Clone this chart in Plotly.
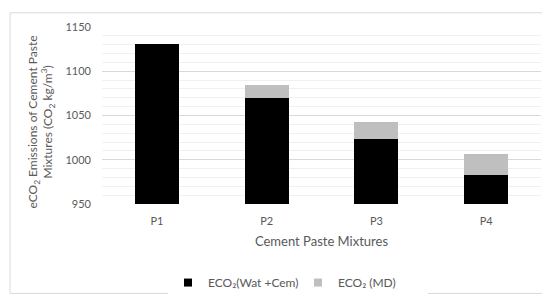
import plotly.graph_objects as go

# data
mixtures = ['P1', 'P2', 'P3', 'P4']
eco2_wat_cem = [1131, 1070, 1024, 983]
eco2_md = [0, 14, 19, 24]

W, H = 550, 301
ml, mr, mt, mb = 94, 17, 17, 97
pw, ph = W - ml - mr, H - mt - mb

def px_x(x):
    return (x - ml) / pw

def px_y(y):
    return (H - mb - y) / ph

font_fam = 'Lato, Noto Sans, sans-serif'
txt_col = '#595959'
names = ['ECO₂(Wat +Cem)', 'ECO₂ (MD)']
colors = ['#000000', '#bfbfbf']
ytitle_lines = ['eCO<sub>2</sub> Emissions of Cement Paste',
                'Mixtures (CO<sub>2</sub> kg/m<sup>3</sup>)']

fig = go.Figure()

for vals, name, col in zip([eco2_wat_cem, eco2_md], names, colors):
    fig.add_trace(
        go.Bar(
            x = mixtures,
            y = vals,
            name = name,
            marker = {'color': col, 'line': {'width': 0}},
            showlegend = False,
        )
    )

# small square legend keys like the excel chart
for name, col in zip(names, colors):
    fig.add_trace(
        go.Scatter(
            x = [None], y = [None],
            mode = 'markers',
            name = name,
            marker = {'color': col, 'symbol': 'square', 'size': 8},
        )
    )

# y title as two rotated lines (one annotation each, easier to place)
annots = []
for line, xpos in zip(ytitle_lines, [26, 40]):
    annots.append(dict(
        text = line,
        xref = 'paper', yref = 'paper',
        x = px_x(xpos), y = px_y(118),
        xanchor = 'center', yanchor = 'middle',
        textangle = -90, showarrow = False,
        font = dict(size = 12, color = txt_col),
    ))

fig.update_layout(
    width = W, height = H,
    margin = dict(l = ml, r = mr, t = mt, b = mb),
    barmode = 'stack',
    bargap = 0.6,
    plot_bgcolor = 'white',
    paper_bgcolor = 'white',
    font = dict(family = font_fam, color = txt_col, size = 11),
    showlegend = True,
    legend = dict(
        orientation = 'h',
        x = px_x(160), xanchor = 'left',
        y = px_y(287), yanchor = 'middle',
        font = dict(size = 12, color = txt_col),
        itemwidth = 30,
        entrywidth = 85,
        traceorder = 'normal',
    ),
    xaxis = dict(
        showgrid = False, showline = False, zeroline = False,
        tickfont = dict(size = 11, color = txt_col),
        ticklabelstandoff = 9,
        title = dict(text = 'Cement Paste Mixtures', font = dict(size = 13, color = txt_col), standoff = 10),
    ),
    yaxis = dict(
        range = [950, 1150],
        dtick = 50,
        showgrid = True, gridcolor = '#d9d9d9', gridwidth = 1,
        minor = dict(dtick = 10, showgrid = True, gridcolor = '#f0f0f0', gridwidth = 1),
        zeroline = False, showline = False,
        tickfont = dict(size = 11, color = txt_col),
        ticklabelstandoff = 10,
    ),
    shapes = [
        dict(
            type = 'rect', xref = 'paper', yref = 'paper',
            x0 = px_x(2), x1 = px_x(548), y0 = px_y(298.5), y1 = px_y(2),
            line = dict(color = '#d9d9d9', width = 1),
            fillcolor = 'rgba(0,0,0,0)', layer = 'below',
        )
    ],
    annotations = annots,
)

fig.write_html('out.html')
